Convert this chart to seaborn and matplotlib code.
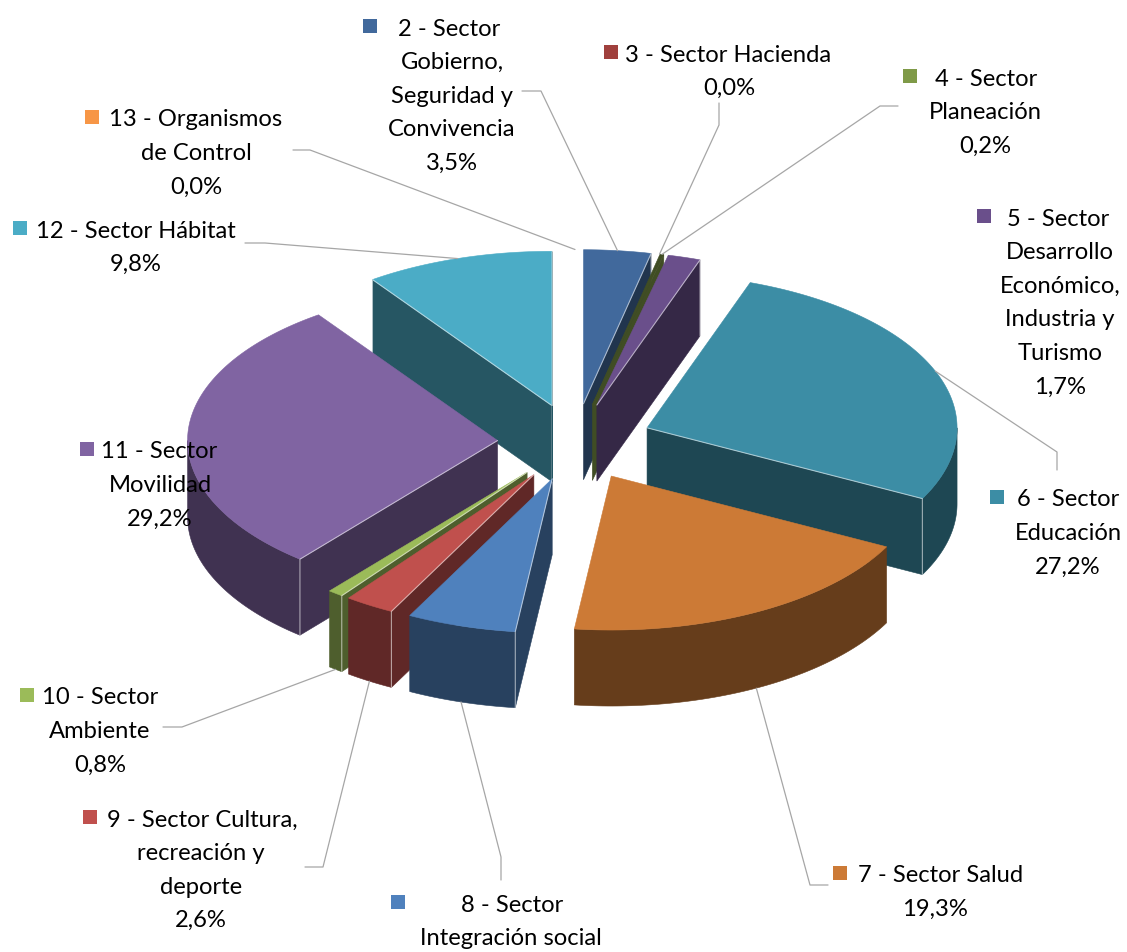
import matplotlib
matplotlib.use("Agg")
import matplotlib.pyplot as plt
from matplotlib.patches import Polygon, Rectangle
import numpy as np
import seaborn as sns

# data
sectors = ["2", "3", "4", "5", "6", "7", "8", "9", "10", "11", "12", "13"]
shares = [3.5, 0.0, 0.2, 1.7, 27.2, 19.3, 5.7, 2.6, 0.8, 29.2, 9.8, 0.0]
label_lines = [
    ["2 - Sector", "Gobierno,", "Seguridad y", "Convivencia"],
    ["3 - Sector Hacienda"],
    ["4 - Sector", "Planeación"],
    ["5 - Sector", "Desarrollo", "Económico,", "Industria y", "Turismo"],
    ["6 - Sector", "Educación"],
    ["7 - Sector Salud"],
    ["8 - Sector", "Integración social"],
    ["9 - Sector Cultura,", "recreación y", "deporte"],
    ["10 - Sector", "Ambiente"],
    ["11 - Sector", "Movilidad"],
    ["12 - Sector Hábitat"],
    ["13 - Organismos", "de Control"],
]
colors_hex = ["#41699C", "#A0403D", "#7F9A48", "#6A4F8B", "#3C8DA5", "#CC7A36",
              "#4F81BD", "#C0504D", "#9BBB59", "#8064A2", "#4BACC6", "#F79646"]

# layout of the pie in pixels
cx, cy = 575, 442
rx, ry = 310, 154
depth = 76
explode = 0.25

# key x, key y, first line centre, other lines centre, first line y
label_pos = [
    (363, 19, 449, 452, 29), (604, 45, 728, 729, 55), (903, 69, 986, 985, 79),
    (977, 209, 1058, 1060, 219), (990, 490, 1068, 1068, 500), (833, 866, 941, 935, 876),
    (391, 895, 512, 511, 905), (83, 810, 202, 201, 820), (20, 688, 100, 100, 698),
    (80, 442, 159, 160, 452), (13, 221, 136, 136, 231), (85, 110, 196, 196, 120),
]
# leader elbows for each sector, nearest the label first; None = no leader
leaders = [
    [(522, 91), (541, 91)], [(719, 103), (719, 125)], [(898, 106), (880, 106)], None,
    [(1057, 470), (1057, 452)], [(828, 885), (810, 885)], [(501, 880), (501, 857)],
    [(305, 867), (323, 867)], [(163, 727), (182, 727)], None,
    [(245, 243), (265, 243)], [(293, 150), (310, 150)],
]

sns.set_theme(style="white")
plt.rcParams["font.family"] = ["Lato", "DejaVu Sans"]
palette = sns.color_palette(colors_hex)

fig, ax = plt.subplots(figsize=(11.27, 9.52), dpi=100)
ax.set_position([0, 0, 1, 1])
ax.set_xlim(0, 1127)
ax.set_ylim(952, 0)
ax.axis("off")

ends = np.cumsum(shares) / np.sum(shares) * 360
starts = ends - np.array(shares) / np.sum(shares) * 360
mids = (starts + ends) / 2


def ring(theta, ox, oy):
    t = np.radians(theta)
    return np.column_stack([ox + rx * np.sin(t), oy - ry * np.cos(t)])


def face(points, color, z):
    ax.add_patch(Polygon(points, closed=True, facecolor=color, edgecolor=color, lw=0.4, zorder=z))


# back slices first so the front ones cover them
order = np.argsort(-np.cos(np.radians(mids)))
for z, i in enumerate(order):
    if shares[i] == 0:
        continue
    a, b, m = starts[i], ends[i], np.radians(mids[i])
    ox = cx + explode * rx * np.sin(m)
    oy = cy - explode * ry * np.cos(m)
    wall = tuple(np.array(palette[i]) * 0.5)
    # a sliver this thin only shows its dark side in the picture
    sliver = shares[i] < 0.5
    top = wall if sliver else palette[i]
    apex = np.array([[ox, oy]])
    base = z * 4 + 2
    lit_edges = []
    if np.sin(np.radians(a)) < 0:
        edge = np.vstack([apex, ring([a], ox, oy)])
        face(np.vstack([edge, (edge + [0, depth])[::-1]]), wall, base)
        lit_edges.append(edge)
    if np.sin(np.radians(b)) > 0:
        edge = np.vstack([apex, ring([b], ox, oy)])
        face(np.vstack([edge, (edge + [0, depth])[::-1]]), wall, base)
        lit_edges.append(edge)
    lo, hi = max(a, 90), min(b, 270)
    if hi > lo:
        arc = ring(np.linspace(lo, hi, 80), ox, oy)
        face(np.vstack([arc, (arc + [0, depth])[::-1]]), wall, base + 1)
    theta = np.linspace(a, b, max(int(b - a) * 2, 2))
    face(np.vstack([apex, ring(theta, ox, oy)]), top, base + 2)
    # thin pale highlight along the lit edges and the corner below them
    for edge in lit_edges:
        if sliver:
            continue
        outer = edge[1]
        ax.plot([edge[0][0], outer[0], outer[0]], [edge[0][1], outer[1], outer[1] + depth],
                color="white", lw=0.8, alpha=0.55, zorder=base + 3)

for i, lines in enumerate(label_lines):
    kx, ky, first_x, other_x, y0 = label_pos[i]
    ax.add_patch(Rectangle((kx, ky), 14, 14, facecolor=palette[i], edgecolor="none", zorder=100))
    pct = f"{shares[i]:.1f}%".replace(".", ",")
    for n, line in enumerate(lines + [pct]):
        y = y0 + n * 33.6
        if y > 945:  # the 5,7% of sector 8 falls below the picture
            continue
        ax.text(first_x if n == 0 else other_x, y, line, ha="center", va="center",
                fontsize=17.1, color="black", zorder=101)
    if leaders[i] is not None:
        m = np.radians(mids[i])
        r = 1 + explode
        tip_y = cy - r * ry * np.cos(m) + (depth if np.cos(m) < -0.5 else 0)
        tip = (cx + r * rx * np.sin(m), tip_y)
        xs, ys = zip(*(leaders[i] + [tip]))
        ax.plot(xs, ys, color="#A6A6A6", lw=0.9, zorder=99)

fig.savefig("out.png", dpi=100)
